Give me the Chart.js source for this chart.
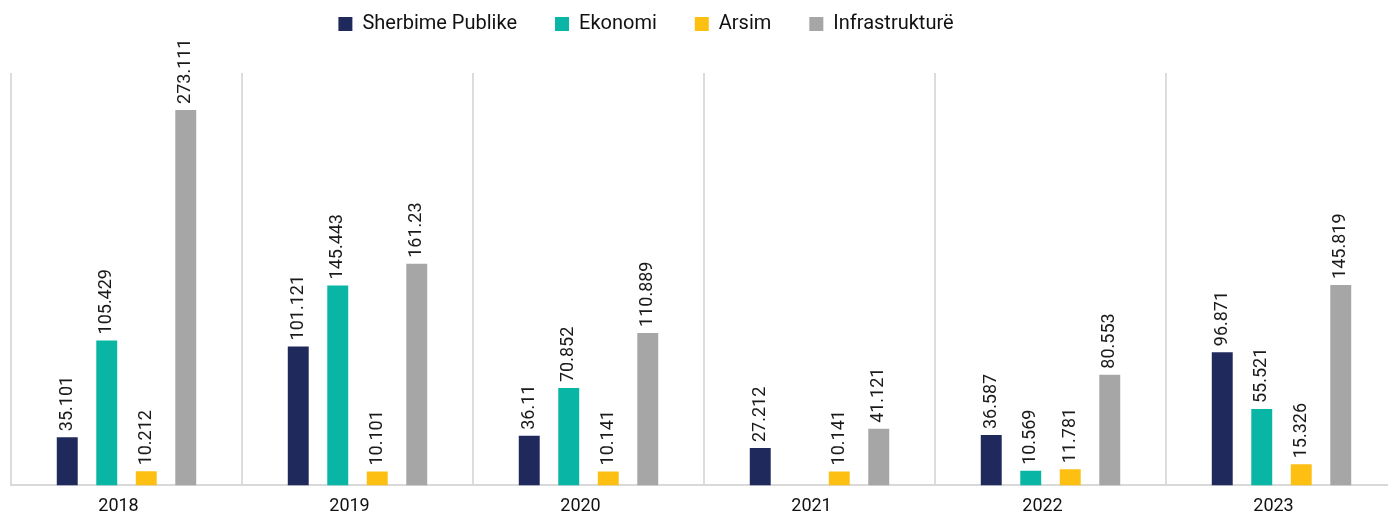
<!DOCTYPE html>
<html>
<head>
<meta charset="utf-8">
<script src="https://cdn.jsdelivr.net/npm/chart.js@4"></script>
<style>
  html, body { margin: 0; padding: 0; background: #fff; overflow: hidden; }
  #wrap { width: 1388px; height: 516px; overflow: hidden; }
</style>
</head>
<body>
<div id="wrap"><canvas id="chart" width="1400" height="527"></canvas></div>
<script>
const years = ['2018', '2019', '2020', '2021', '2022', '2023'];
const sherbimePublike = [35.101, 101.121, 36.11, 27.212, 36.587, 96.871];
const ekonomi = [105.429, 145.443, 70.852, null, 10.569, 55.521];
const arsim = [10.212, 10.101, 10.141, 10.141, 11.781, 15.326];
const infrastrukture = [273.111, 161.23, 110.889, 41.121, 80.553, 145.819];

// rotated value labels above each bar
const valueLabels = {
  id: 'valueLabels',
  afterDatasetsDraw(chart) {
    const ctx = chart.ctx;
    ctx.save();
    ctx.font = '18px Roboto';
    ctx.fillStyle = '#1a1a1a';
    ctx.textAlign = 'left';
    ctx.textBaseline = 'middle';
    chart.data.datasets.forEach((ds, i) => {
      chart.getDatasetMeta(i).data.forEach((bar, j) => {
        const v = ds.data[j];
        if (v == null) return;
        ctx.save();
        ctx.translate(bar.x, bar.y - 6);
        ctx.rotate(-Math.PI / 2);
        ctx.fillText(String(v), 0, 0);
        ctx.restore();
      });
    });
    ctx.restore();
  }
};

// move the legend up and a bit to the left, like the original
const legendShift = {
  id: 'legendShift',
  afterLayout(chart) {
    const lg = chart.legend;
    if (!lg) return;
    lg.left -= 58; lg.right -= 58;
    lg.top -= 29; lg.bottom -= 29;
  }
};

new Chart(document.getElementById('chart'), {
  type: 'bar',
  data: {
    labels: years,
    datasets: [
      { label: 'Sherbime Publike', data: sherbimePublike, backgroundColor: '#20295b' },
      { label: 'Ekonomi', data: ekonomi, backgroundColor: '#09b5a4' },
      { label: 'Arsim', data: arsim, backgroundColor: '#fcbf12' },
      { label: 'Infrastrukturë', data: infrastrukture, backgroundColor: '#a6a6a6' }
    ]
  },
  options: {
    responsive: false,
    animation: false,
    layout: { padding: { left: 11, right: 3, top: 5, bottom: 0 } },
    datasets: {
      bar: { categoryPercentage: 0.684, barPercentage: 0.53 }
    },
    plugins: {
      legend: {
        position: 'top',
        labels: {
          font: { family: 'Roboto', size: 20 },
          color: '#111',
          boxWidth: 14,
          boxHeight: 14,
          padding: 38
        }
      },
      tooltip: { enabled: false }
    },
    scales: {
      x: {
        grid: { color: '#dcdcdc', lineWidth: 2, drawTicks: false },
        border: { color: '#d9d9d9', width: 2 },
        ticks: { font: { family: 'Roboto', size: 18 }, color: '#111', padding: 10, labelOffset: -8 }
      },
      y: {
        display: false,
        min: 0,
        max: 300
      }
    }
  },
  plugins: [valueLabels, legendShift]
});
</script>
</body>
</html>
